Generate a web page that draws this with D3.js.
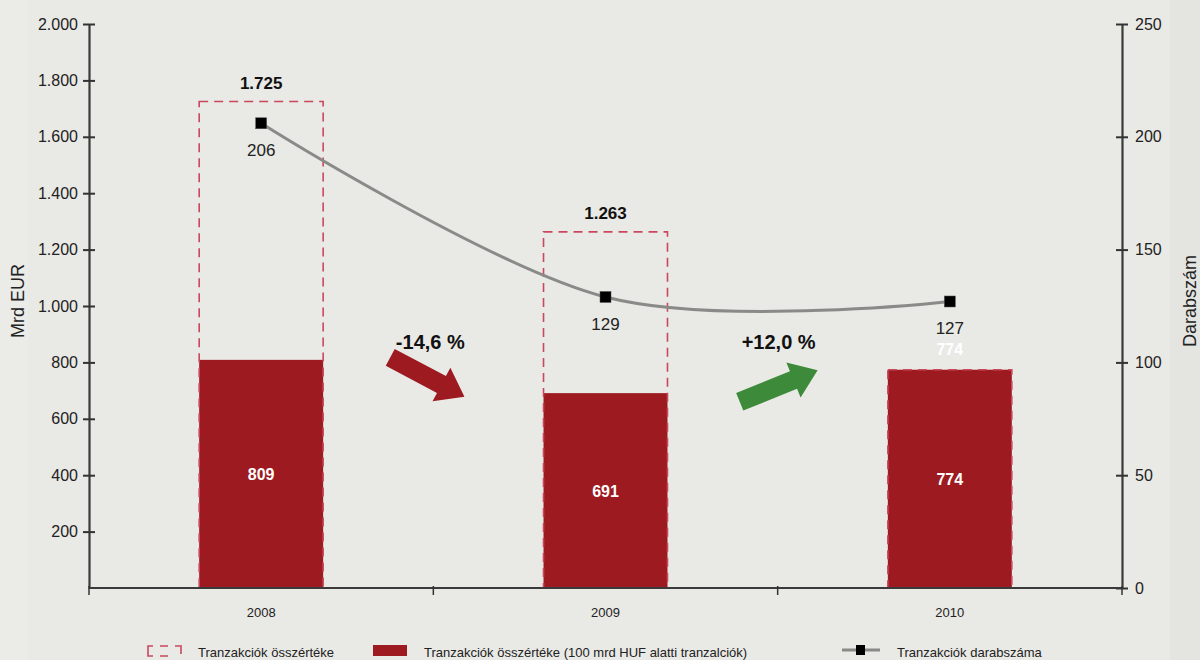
<!DOCTYPE html>
<html><head><meta charset="utf-8">
<script src="https://cdn.jsdelivr.net/npm/d3@7"></script>
<style>
html,body{margin:0;padding:0;background:#e9e9e5;}
svg{display:block;font-family:"Liberation Sans",Arial,sans-serif;}
</style></head>
<body>
<svg id="c" width="1200" height="660"></svg>
<script>
const years = ["2008", "2009", "2010"];
const totalValue = [1725, 1263, 774];
const totalLabels = ["1.725", "1.263", "774"];
const smallValue = [809, 691, 774];
const txCount = [206, 129, 127];
const leftTicks = [200, 400, 600, 800, 1000, 1200, 1400, 1600, 1800, 2000];
const rightTicks = [0, 50, 100, 150, 200, 250];
const changeLabels = ["-14,6 %", "+12,0 %"];
const legendLabels = ["Tranzakciók összértéke", "Tranzakciók összértéke (100 mrd HUF alatti tranzalciók)", "Tranzakciók darabszáma"];

const svg = d3.select("#c");
const L = 89, R = 1122, T = 24, B = 588;
const fmt = d => d3.format(",")(d).replace(/,/g, ".");

const x = d3.scaleBand().domain(years).range([L, R]).paddingInner(0.64).paddingOuter(0.32);
const y = d3.scaleLinear().domain([0, 2000]).range([B, T]);
const y2 = d3.scaleLinear().domain([0, 250]).range([B, T]);

// background panel
svg.append("rect").attr("x",0).attr("y",0).attr("width",1200).attr("height",660).attr("fill","#e9e9e5");
svg.append("rect").attr("x",0).attr("y",0).attr("width",28).attr("height",660).attr("fill","#ebebe8");
svg.append("rect").attr("x",1170).attr("y",0).attr("width",30).attr("height",660).attr("fill","#e4e4e1");

const red = "#9c1a20", dash = "#c9485d";

// solid bars
svg.append("g").selectAll("rect").data(years).join("rect")
  .attr("x", d => x(d)).attr("width", x.bandwidth())
  .attr("y", (d,i) => y(smallValue[i])).attr("height", (d,i) => B - y(smallValue[i]))
  .attr("fill", red);

// dashed total bars
svg.append("g").selectAll("rect").data(years).join("rect")
  .attr("x", d => x(d)).attr("width", x.bandwidth())
  .attr("y", (d,i) => y(totalValue[i])).attr("height", (d,i) => B - y(totalValue[i]))
  .attr("fill", "none").attr("stroke", dash).attr("stroke-width", 1.6).attr("stroke-dasharray", "9,6");

// axes
const gl = svg.append("g").attr("transform", `translate(${L},0)`)
  .call(d3.axisLeft(y).tickValues(leftTicks).tickFormat(fmt).tickSize(0).tickPadding(11));
gl.selectAll(".tick").append("line").attr("x1",-6).attr("x2",6).attr("stroke","#333").attr("stroke-width",2);
gl.select(".domain").attr("stroke","#3a3a3a").attr("stroke-width",2.2);
gl.selectAll("text").attr("font-size",16).attr("fill","#222");

const gr = svg.append("g").attr("transform", `translate(${R},0)`)
  .call(d3.axisRight(y2).tickValues(rightTicks).tickSize(0).tickPadding(13));
gr.selectAll(".tick").append("line").attr("x1",-6).attr("x2",6).attr("stroke","#333").attr("stroke-width",2);
gr.select(".domain").attr("stroke","#3a3a3a").attr("stroke-width",2.2);
gr.selectAll("text").attr("font-size",16).attr("fill","#222");

// x axis
const gx = svg.append("g").attr("transform", `translate(0,${B})`);
gx.append("line").attr("x1", L).attr("x2", R).attr("stroke","#3a3a3a").attr("stroke-width",2.2);
const bounds = [L, ...years.slice(1).map(d => x(d) - x.step()*x.paddingInner()/2), R];
gx.selectAll("line.t").data(bounds).join("line").attr("class","t")
  .attr("x1", d => d).attr("x2", d => d).attr("y1", -2).attr("y2", 7).attr("stroke","#333").attr("stroke-width",1.5);
gx.selectAll("text").data(years).join("text")
  .attr("x", d => x(d) + x.bandwidth()/2).attr("y", 29).attr("text-anchor","middle")
  .attr("font-size",13).attr("fill","#222").text(d => d);

// axis titles
svg.append("text").attr("transform","translate(24,301) rotate(-90)").attr("text-anchor","middle")
  .attr("font-size",18).attr("fill","#222").text("Mrd EUR");
svg.append("text").attr("transform","translate(1196,301) rotate(-90)").attr("text-anchor","middle")
  .attr("font-size",18).attr("fill","#222").text("Darabszám");

// total labels (bold above)
svg.append("g").selectAll("text").data(years.slice(0,2)).join("text")
  .attr("x", d => x(d) + x.bandwidth()/2).attr("y", (d,i) => y(totalValue[i]) - 13)
  .attr("text-anchor","middle").attr("font-size",17).attr("font-weight","bold").attr("fill","#111")
  .text((d,i) => totalLabels[i]);
// 2010 total label (white)
svg.append("text").attr("x", x(years[2]) + x.bandwidth()/2).attr("y", y(totalValue[2]) - 15)
  .attr("text-anchor","middle").attr("font-size",16).attr("font-weight","bold").attr("fill","#ffffff")
  .text(totalLabels[2]);

// inner labels
svg.append("g").selectAll("text").data(years).join("text")
  .attr("x", d => x(d) + x.bandwidth()/2).attr("y", (d,i) => (y(smallValue[i]) + B)/2 + 6)
  .attr("text-anchor","middle").attr("font-size",16).attr("font-weight","bold").attr("fill","#fff")
  .text((d,i) => smallValue[i]);

// line
const pts = years.map((d,i) => [x(d) + x.bandwidth()/2, y2(txCount[i])]);
svg.append("path").attr("d", d3.line().curve(d3.curveCardinal.tension(0))(pts))
  .attr("fill","none").attr("stroke","#8a8a88").attr("stroke-width",3);
svg.append("g").selectAll("rect").data(pts).join("rect")
  .attr("x", d => d[0]-5.5).attr("y", d => d[1]-5.5).attr("width",11).attr("height",11)
  .attr("fill","#000").attr("stroke","#555").attr("stroke-width",0.5);
svg.append("g").selectAll("text").data(pts).join("text")
  .attr("x", d => d[0]).attr("y", d => d[1] + 33).attr("text-anchor","middle")
  .attr("font-size",17).attr("fill","#222").text((d,i) => txCount[i]);

// arrows
function arrow(cx, cy, angle, color) {
  const len = 84, bw = 19, hw = 38, hl = 26;
  const p = [[-len/2, -bw/2], [len/2 - hl, -bw/2], [len/2 - hl, -hw/2], [len/2, 0],
             [len/2 - hl, hw/2], [len/2 - hl, bw/2], [-len/2, bw/2]];
  svg.append("path").attr("d", "M" + p.map(q => q.join(",")).join("L") + "Z")
    .attr("transform", `translate(${cx},${cy}) rotate(${angle})`).attr("fill", color);
}
const mid1 = (pts[0][0] + pts[1][0]) / 2, mid2 = (pts[1][0] + pts[2][0]) / 2;
arrow(mid1 - 6, 377, 28, "#9c1a20");
arrow(mid2 + 1, 386, -22, "#3d8a3a");
svg.append("text").attr("x", mid1 - 3).attr("y", 349).attr("text-anchor","middle")
  .attr("font-size",20).attr("font-weight","bold").attr("fill","#111").text(changeLabels[0]);
svg.append("text").attr("x", mid2 + 1).attr("y", 349).attr("text-anchor","middle")
  .attr("font-size",20).attr("font-weight","bold").attr("fill","#111").text(changeLabels[1]);

// legend
const lg = svg.append("g");
lg.append("path").attr("d","M153,646 L148,646 L148,656 L153,656 M160,646 L168,646 M160,656 L168,656 M175,646 L180,646 M181,645 L181,654")
  .attr("fill","none").attr("stroke",dash).attr("stroke-width",1.6);
lg.append("text").attr("x",198).attr("y",657).attr("font-size",13).attr("fill","#222").text(legendLabels[0]);
lg.append("rect").attr("x",373).attr("y",645).attr("width",34).attr("height",11).attr("fill",red);
lg.append("text").attr("x",424).attr("y",657).attr("font-size",13).attr("fill","#222").text(legendLabels[1]);
lg.append("line").attr("x1",842).attr("x2",880).attr("y1",650).attr("y2",650).attr("stroke","#8a8a88").attr("stroke-width",3);
lg.append("rect").attr("x",856).attr("y",645).attr("width",9).attr("height",10).attr("fill","#000");
lg.append("text").attr("x",897).attr("y",657).attr("font-size",13).attr("fill","#222").text(legendLabels[2]);
</script>
</body></html>
